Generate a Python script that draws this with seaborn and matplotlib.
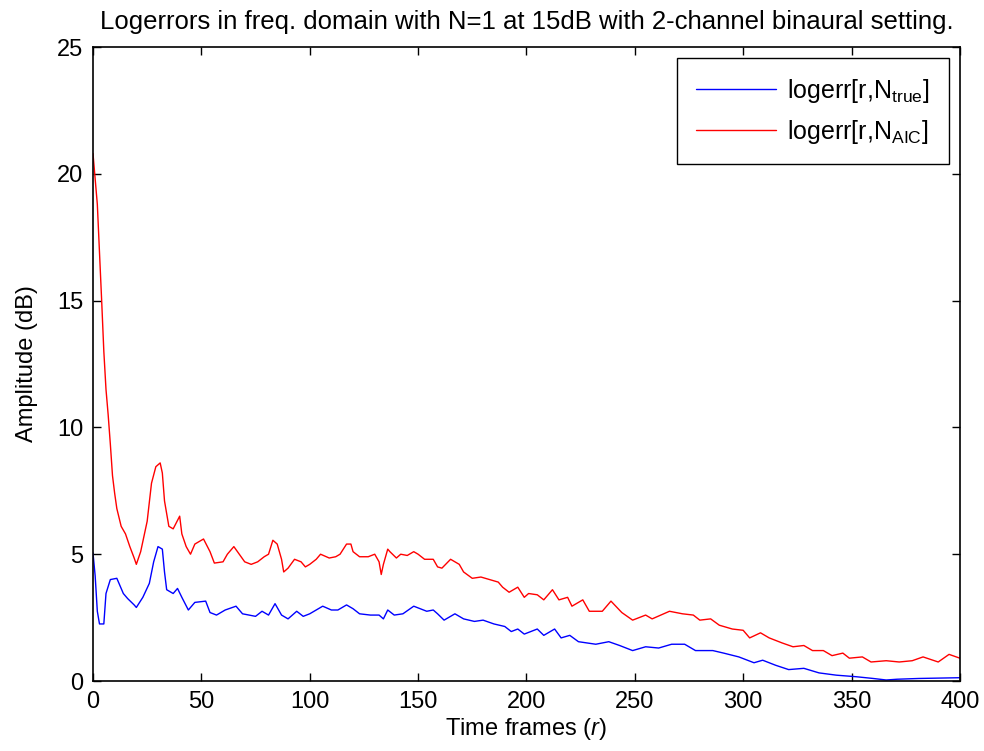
import matplotlib
matplotlib.use("Agg")
import matplotlib.pyplot as plt
import seaborn as sns
import pandas as pd

# ---- data ----
red_frames = [0, 2, 3, 4, 5, 6, 7, 8, 9, 10, 11, 13, 15, 17, 19, 20, 22, 25, 27, 29, 31, 32, 33, 35, 37, 40, 41, 43, 45, 47,
              51, 54, 56, 60, 62, 65, 70, 73, 76, 79, 81, 83, 85, 87, 88, 90, 93, 96, 98, 100, 103, 105, 109, 112, 114,
              117, 119, 120, 123, 127, 130, 132, 133, 134, 136, 137, 140, 142, 145, 148, 150, 153, 157, 159, 161, 165,
              169, 171, 175, 179, 183, 187, 189, 192, 196, 199, 201, 205, 208, 212, 215, 219, 221, 226, 229, 235, 239,
              244, 249, 255, 258, 266, 272, 277, 280, 285, 289, 295, 300, 303, 308, 312, 318, 323, 328, 332, 337, 341,
              346, 349, 355, 359, 366, 372, 378, 383, 390, 395, 400]
red_values = [20.8, 18.8, 16.9, 15.0, 13.0, 11.5, 10.5, 9.35, 8.1, 7.4, 6.8, 6.1, 5.8, 5.3, 4.85, 4.6, 5.1, 6.3, 7.8, 8.45,
              8.6, 8.2, 7.1, 6.1, 6.0, 6.5, 5.8, 5.3, 5.0, 5.4, 5.6, 5.1, 4.65, 4.7, 5.0, 5.3, 4.7, 4.6, 4.7, 4.9, 5.0,
              5.55, 5.4, 4.8, 4.3, 4.45, 4.8, 4.7, 4.5, 4.6, 4.8, 5.0, 4.85, 4.9, 5.0, 5.4, 5.4, 5.1, 4.9, 4.9, 5.0, 4.7,
              4.2, 4.6, 5.2, 5.1, 4.85, 5.0, 4.95, 5.1, 5.0, 4.8, 4.8, 4.5, 4.45, 4.8, 4.6, 4.3, 4.05, 4.1, 4.0, 3.9, 3.7,
              3.5, 3.7, 3.3, 3.45, 3.4, 3.2, 3.6, 3.2, 3.3, 2.95, 3.2, 2.75, 2.75, 3.15, 2.7, 2.4, 2.6, 2.45, 2.75, 2.65,
              2.6, 2.4, 2.45, 2.2, 2.05, 2.0, 1.7, 1.9, 1.7, 1.5, 1.35, 1.4, 1.2, 1.2, 1.0, 1.1, 0.9, 0.95, 0.75, 0.8,
              0.75, 0.8, 0.95, 0.75, 1.05, 0.9]

blue_frames = [0, 1, 2, 3, 5, 6, 8, 11, 12, 14, 16, 19, 20, 23, 26, 28, 30, 32, 33, 34, 37, 39, 41, 44, 47, 52, 54, 57,
               61, 66, 69, 75, 78, 81, 84, 87, 90, 94, 97, 100, 103, 106, 110, 113, 117, 120, 123, 128, 132, 134, 136,
               139, 143, 148, 151, 154, 157, 159, 162, 167, 171, 176, 180, 185, 190, 193, 196, 199, 202, 205, 208, 213,
               216, 220, 224, 232, 238, 243, 249, 255, 261, 267, 273, 278, 286, 291, 298, 305, 309, 315, 321, 328, 335,
               343, 352, 360, 366, 371, 381, 400]
blue_values = [5.05, 4.15, 2.75, 2.25, 2.25, 3.45, 4.0, 4.05, 3.85, 3.45, 3.25, 3.0, 2.9, 3.3, 3.85, 4.7, 5.3, 5.2, 4.3,
               3.6, 3.45, 3.65, 3.3, 2.8, 3.1, 3.15, 2.7, 2.6, 2.8, 2.95, 2.65, 2.55, 2.75, 2.6, 3.05, 2.6, 2.45, 2.75,
               2.55, 2.65, 2.8, 2.95, 2.8, 2.8, 3.0, 2.85, 2.65, 2.6, 2.6, 2.45, 2.8, 2.6, 2.65, 2.95, 2.85, 2.75, 2.8,
               2.65, 2.4, 2.65, 2.45, 2.35, 2.4, 2.25, 2.15, 1.95, 2.05, 1.85, 1.95, 2.05, 1.8, 2.05, 1.7, 1.8, 1.55,
               1.45, 1.55, 1.4, 1.2, 1.35, 1.3, 1.45, 1.45, 1.2, 1.2, 1.1, 0.95, 0.72, 0.82, 0.62, 0.45, 0.5, 0.32,
               0.23, 0.17, 0.1, 0.04, 0.07, 0.1, 0.13]

x_ticks = [0, 50, 100, 150, 200, 250, 300, 350, 400]
y_ticks = [0, 5, 10, 15, 20, 25]
title_text = "Logerrors in freq. domain with N=1 at 15dB with 2-channel binaural setting."
label_true = r"logerr[r,N$_{\mathrm{true}}$]"
label_aic = r"logerr[r,N$_{\mathrm{AIC}}$]"

sns.set_style("ticks")
plt.rcParams['font.family'] = ['Liberation Sans', 'DejaVu Sans']
plt.rcParams['mathtext.fontset'] = 'custom'
plt.rcParams['mathtext.rm'] = 'Liberation Sans'
plt.rcParams['mathtext.it'] = 'Liberation Sans:italic'
plt.rcParams['mathtext.bf'] = 'Liberation Sans:bold'
for key in ['text.color', 'axes.labelcolor', 'xtick.color', 'ytick.color', 'axes.edgecolor']:
    plt.rcParams[key] = 'black'

FS = 17

df_true = pd.DataFrame({"frame": blue_frames, "value": blue_values})
df_aic = pd.DataFrame({"frame": red_frames, "value": red_values})

fig = plt.figure(figsize=(9.84, 7.51), dpi=100)
ax = fig.add_axes([0.0945, 0.0932, 0.881, 0.8442])

sns.lineplot(data=df_true, x="frame", y="value", color=(0, 0, 1), linewidth=1.0, ax=ax, label=label_true)
sns.lineplot(data=df_aic, x="frame", y="value", color=(1, 0, 0), linewidth=1.0, ax=ax, label=label_aic)

ax.set_xlim(0, 400)
ax.set_ylim(0, 25)
ax.set_xticks(x_ticks)
ax.set_yticks(y_ticks)
ax.tick_params(direction='in', length=6, width=1, top=True, right=True, labelsize=FS, pad=7)
for s in ax.spines.values():
    s.set_visible(True)
    s.set_linewidth(1.2)
    s.set_color('black')

ax.set_xlabel(r"Time frames ($\it{r}$)", fontsize=FS, labelpad=2)
ax.set_ylabel("Amplitude (dB)", fontsize=FS, labelpad=14)
ax.set_title(title_text, fontsize=18.5, pad=13)

leg = ax.legend(loc='upper right', fontsize=18, frameon=True, fancybox=False, handlelength=3.2,
                handletextpad=0.45, borderpad=0.75, labelspacing=0.5, borderaxespad=0.45)
leg.get_frame().set_edgecolor('black')
leg.get_frame().set_linewidth(1.0)
leg.get_frame().set_alpha(1)

fig.savefig("out.png", dpi=100)
